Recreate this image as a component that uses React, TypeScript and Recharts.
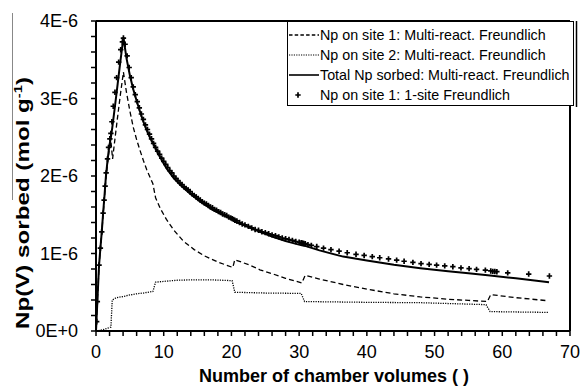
import React from 'react';
import { ComposedChart, Line, Scatter, XAxis, YAxis, ReferenceLine, Legend } from 'recharts';

const FONT = '"Liberation Sans", Arial, Helvetica, sans-serif';

// Np sorbed in units of 1E-6 mol/g, as [chamber volumes, amount]
const site1Multi: [number, number][] = [
  [0, 0], [0.2, 0.38], [0.45, 0.84], [0.65, 1.06], [0.85, 1.26], [1.05, 1.5], [1.25, 1.72],
  [1.45, 1.95], [1.7, 2.16], [1.95, 2.34], [2.2, 2.45], [2.45, 2.22], [2.8, 2.48], [3.2, 2.77],
  [3.6, 3.05], [4.05, 3.34], [4.5, 3.08], [5.0, 2.84], [5.5, 2.63], [6.0, 2.47], [6.5, 2.33],
  [7.0, 2.2], [7.5, 2.08], [8.0, 1.98], [8.4, 1.9], [8.8, 1.72], [9.5, 1.58], [10.4, 1.44],
  [11.5, 1.3], [12.9, 1.16], [14.5, 1.05], [16, 0.97], [18, 0.89], [20.2, 0.82], [20.5, 0.92],
  [22.7, 0.85], [24.2, 0.79], [26, 0.74], [28, 0.68], [30.4, 0.62], [30.9, 0.72], [33, 0.67],
  [36.5, 0.6], [40, 0.54], [44, 0.48], [47.9, 0.44], [52, 0.41], [55, 0.395], [57.8, 0.38],
  [58.3, 0.47], [62, 0.43], [66.8, 0.39],
];

const site2Multi: [number, number][] = [
  [0, 0], [1.0, 0.015], [2.2, 0.05], [2.4, 0.4], [3.0, 0.43], [4.0, 0.445], [5.0, 0.465],
  [6.0, 0.48], [7.0, 0.49], [8.4, 0.51], [8.8, 0.63], [10, 0.64], [12, 0.655], [14, 0.66],
  [17, 0.66], [20.1, 0.65], [20.5, 0.5], [25, 0.49], [30.3, 0.485], [30.8, 0.38], [40, 0.37],
  [48, 0.365], [57.6, 0.34], [58.2, 0.25], [66.8, 0.24],
];

const totalMulti: [number, number][] = [
  [0, 0], [0.2, 0.38], [0.45, 0.85], [0.65, 1.07], [0.85, 1.28], [1.05, 1.52], [1.25, 1.74],
  [1.45, 1.98], [1.7, 2.2], [1.95, 2.38], [2.2, 2.5], [2.4, 2.62], [2.8, 2.9], [3.2, 3.19],
  [3.6, 3.48], [4.05, 3.79], [4.5, 3.52], [5.0, 3.3], [5.5, 3.12], [6.0, 2.97], [6.5, 2.83],
  [7.0, 2.7], [7.5, 2.59], [8.0, 2.49], [8.5, 2.41], [9.0, 2.32], [9.5, 2.24], [10.4, 2.1],
  [11.5, 1.97], [12.5, 1.88], [13.9, 1.77], [15.4, 1.67], [17.3, 1.56], [19.8, 1.45],
  [20.2, 1.44], [20.5, 1.41], [22, 1.36], [24.2, 1.28], [26, 1.22], [28, 1.16], [30.4, 1.105],
  [31, 1.095], [33, 1.04], [36.5, 0.96], [40, 0.91], [44, 0.855], [47.9, 0.81], [52, 0.77],
  [55, 0.745], [58.2, 0.715], [62, 0.68], [66.9, 0.63],
];

const site1OneSite: [number, number][] = [
  [0, 0], [0.1, 0.12], [0.2, 0.38], [0.45, 0.85], [0.65, 1.07], [0.85, 1.28], [1.05, 1.52],
  [1.2, 1.69], [1.35, 1.87], [1.5, 2.04], [1.7, 2.22], [1.85, 2.37], [2.05, 2.48], [2.2, 2.55],
  [2.35, 2.7], [2.55, 2.9], [2.8, 3.08], [3.05, 3.27], [3.35, 3.47], [3.65, 3.63], [3.9, 3.73],
  [4.05, 3.78], [4.3, 3.7], [4.6, 3.55], [4.9, 3.4], [5.2, 3.27], [5.5, 3.15], [5.8, 3.05],
  [6.1, 2.96], [6.4, 2.88], [6.7, 2.8], [7.0, 2.73], [7.3, 2.66], [7.6, 2.6], [7.9, 2.54],
  [8.2, 2.48], [8.5, 2.42], [8.8, 2.37], [9.1, 2.32], [9.4, 2.28], [9.7, 2.23], [10.0, 2.19],
  [10.3, 2.15], [10.6, 2.11], [10.9, 2.07], [11.2, 2.04], [11.5, 2.0], [11.8, 1.97],
  [12.1, 1.94], [12.4, 1.91], [12.7, 1.89], [13.0, 1.86], [13.3, 1.84], [13.6, 1.82],
  [13.9, 1.8], [14.2, 1.77], [14.5, 1.75], [14.8, 1.73], [15.1, 1.71], [15.4, 1.69],
  [15.7, 1.67], [16.0, 1.65], [16.3, 1.64], [16.6, 1.62], [16.9, 1.6], [17.2, 1.59],
  [17.5, 1.57], [17.8, 1.56], [18.1, 1.54], [18.4, 1.53], [18.7, 1.51], [19.0, 1.5],
  [19.3, 1.49], [19.6, 1.47], [19.9, 1.46], [20.1, 1.45], [20.3, 1.44], [20.5, 1.43],
  [20.8, 1.42], [21.2, 1.4], [21.6, 1.38], [22.0, 1.37], [22.5, 1.35], [23.0, 1.33],
  [23.5, 1.31], [24.0, 1.3], [24.5, 1.28], [25.0, 1.27], [25.5, 1.255], [26.0, 1.24],
  [26.5, 1.23], [27.0, 1.215], [27.5, 1.2], [28.0, 1.19], [28.5, 1.18], [29.0, 1.17],
  [29.5, 1.155], [30.0, 1.145], [30.3, 1.14], [30.5, 1.135], [30.7, 1.13], [30.9, 1.125],
  [31.3, 1.115], [31.8, 1.105], [32.6, 1.09], [33.6, 1.07], [34.7, 1.05], [35.9, 1.03],
  [37.1, 1.01], [38.4, 0.99], [39.6, 0.975], [40.8, 0.96], [41.9, 0.945], [43.2, 0.93],
  [44.4, 0.915], [45.5, 0.9], [46.8, 0.885], [48.0, 0.87], [49.2, 0.86], [50.3, 0.85],
  [51.5, 0.84], [52.7, 0.83], [53.9, 0.815], [55.1, 0.805], [56.2, 0.795], [57.5, 0.785],
  [58.3, 0.775], [58.6, 0.77], [58.9, 0.768], [59.2, 0.765], [60.8, 0.75], [63.9, 0.735],
  [66.96, 0.71],
];

const legendLabels = [
  'Np on site 1: Multi-react. Freundlich',
  'Np on site 2: Multi-react. Freundlich',
  'Total Np sorbed: Multi-react. Freundlich',
  'Np on site 1: 1-site Freundlich',
];

const xTicks = Array.from({ length: 36 }, (_, i) => i * 2);
const yTicks = Array.from({ length: 21 }, (_, i) => Math.round(i * 2) / 10);

const rows = (pts: [number, number][]) => pts.map(([x, y]) => ({ x, y }));

const isMajor = (v: number, step: number) => Math.abs(v / step - Math.round(v / step)) < 1e-6;

const XTick = ({ x, y, payload }: any) =>
  isMajor(payload.value, 10) ? (
    <text x={x} y={y} dy="0.71em" textAnchor="middle" fontSize={18} fontFamily={FONT} fill="#000">
      {payload.value}
    </text>
  ) : null;

const YTick = ({ x, y, payload }: any) =>
  isMajor(payload.value, 1) ? (
    <text x={x} y={y} dy="0.36em" textAnchor="end" fontSize={18} fontFamily={FONT} fill="#000">
      {(payload.value * 1e-6).toExponential(0).toUpperCase()}
    </text>
  ) : null;

const Plus = ({ cx, cy }: any) => (
  <path d={`M${cx - 2.7},${cy}h5.4M${cx},${cy - 2.7}v5.4`} stroke="#000" strokeWidth={1.7} fill="none" />
);

function LegendBox() {
  const rowY = [14, 34, 54, 74];
  const samples = [
    <line x1={2} x2={32} y1={rowY[0]} y2={rowY[0]} stroke="#000" strokeWidth={1.3} strokeDasharray="3.5 2.2" />,
    <line x1={2} x2={32} y1={rowY[1]} y2={rowY[1]} stroke="#000" strokeWidth={1.2} strokeDasharray="1.2 1.2" />,
    <line x1={2} x2={32} y1={rowY[2]} y2={rowY[2]} stroke="#000" strokeWidth={1.6} />,
    <Plus cx={11} cy={rowY[3]} />,
  ];
  return (
    <svg width={291} height={86} style={{ display: 'block' }}>
      <rect x={0.5} y={0.5} width={286} height={84} fill="#fff" stroke="#000" strokeWidth={1} />
      <line x1={289.5} x2={289.5} y1={0} y2={86} stroke="#000" strokeWidth={1.5} />
      {legendLabels.map((label, i) => (
        <g key={label}>
          {samples[i]}
          <text x={33} y={rowY[i]} dy="0.36em" fontSize={14.3} fontFamily={FONT} fill="#000">
            {label}
          </text>
        </g>
      ))}
    </svg>
  );
}

export default function App() {
  return (
    <div style={{ position: 'absolute', left: 0, top: 0, width: 583, height: 388, background: '#fff' }}>
      <ComposedChart width={583} height={388} margin={{ top: 21, right: 13, bottom: 0, left: 0 }}>
        <XAxis
          type="number"
          dataKey="x"
          domain={[0, 70]}
          ticks={xTicks}
          interval={0}
          height={57}
          tickSize={5}
          tickMargin={9}
          tick={<XTick />}
          axisLine={{ stroke: '#000', strokeWidth: 2 }}
          tickLine={{ stroke: '#000', strokeWidth: 1.5 }}
          allowDataOverflow
        />
        <YAxis
          type="number"
          dataKey="y"
          domain={[0, 4]}
          ticks={yTicks}
          interval={0}
          width={96}
          tickSize={5}
          tickMargin={13}
          tick={<YTick />}
          axisLine={{ stroke: '#000', strokeWidth: 2 }}
          tickLine={{ stroke: '#000', strokeWidth: 1.5 }}
          allowDataOverflow
        />
        <ReferenceLine y={4} stroke="#000" strokeWidth={2} />
        <ReferenceLine x={70} stroke="#000" strokeWidth={2} />
        <Line data={rows(site1Multi)} dataKey="y" type="linear" stroke="#000" strokeWidth={1.3}
          strokeDasharray="5 3" dot={false} isAnimationActive={false} />
        <Line data={rows(site2Multi)} dataKey="y" type="linear" stroke="#000" strokeWidth={1.3}
          strokeDasharray="1.2 1.2" dot={false} isAnimationActive={false} />
        <Line data={rows(totalMulti)} dataKey="y" type="linear" stroke="#000" strokeWidth={2}
          dot={false} isAnimationActive={false} />
        <Scatter data={rows(site1OneSite)} dataKey="y" shape={<Plus />} isAnimationActive={false} />
        <Legend
          layout="vertical"
          align="center"
          verticalAlign="middle"
          content={<LegendBox />}
          wrapperStyle={{ left: 287, top: 21, width: 291, height: 86 }}
        />
      </ComposedChart>
      <svg width={583} height={388} style={{ position: 'absolute', left: 0, top: 0, pointerEvents: 'none' }}>
        <line x1={12.5} x2={12.5} y1={13} y2={200} stroke="#888" strokeWidth={1} />
        <text
          transform="translate(29,203) rotate(-90)"
          textAnchor="middle"
          fontSize={18}
          fontWeight="bold"
          fontFamily={FONT}
          fill="#000"
          textLength={252}
          lengthAdjust="spacingAndGlyphs"
        >
          Np(V) sorbed (mol g<tspan dy={-7} fontSize={11}>-1</tspan><tspan dy={7}>)</tspan>
        </text>
        <text x={334} y={382} textAnchor="middle" fontSize={18} fontWeight="bold" fontFamily={FONT} fill="#000">
          Number of chamber volumes ( )
        </text>
      </svg>
    </div>
  );
}
